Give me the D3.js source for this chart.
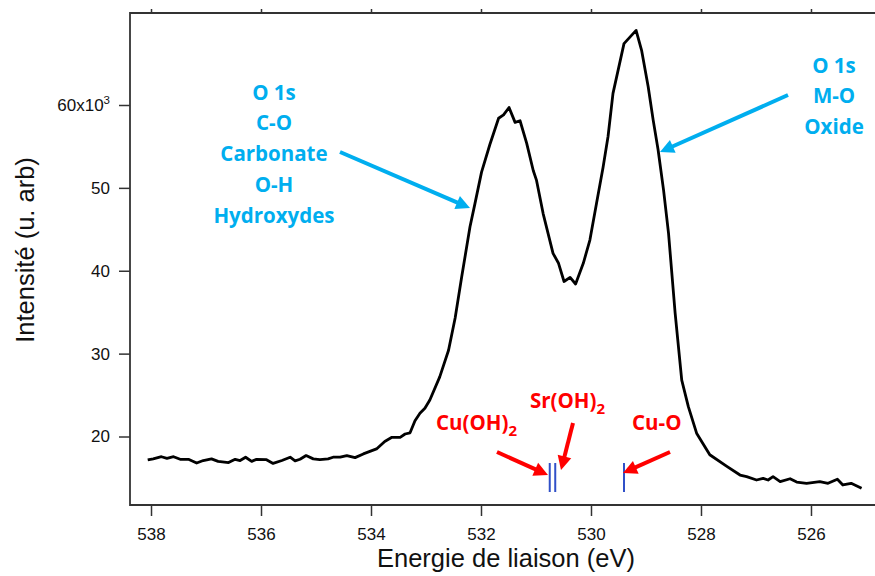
<!DOCTYPE html>
<html>
<head>
<meta charset="utf-8">
<script src="https://cdn.jsdelivr.net/npm/d3@7"></script>
<style>
  html, body { margin: 0; padding: 0; background: #fff; }
  svg { display: block; }
</style>
</head>
<body>
<svg id="chart" width="875" height="576"></svg>
<script>
// O 1s XPS spectrum: binding energy (eV) and intensity (counts)
const energy = [
  538.06, 537.96, 537.81, 537.71, 537.59, 537.47, 537.32, 537.17, 537.05, 536.90,
  536.78, 536.59, 536.47, 536.38, 536.28, 536.17, 536.08, 535.90, 535.78, 535.62,
  535.47, 535.38, 535.29, 535.18, 535.05, 534.93, 534.78, 534.69, 534.56, 534.44,
  534.29, 534.14, 534.02, 533.90, 533.75, 533.62, 533.47, 533.38, 533.29, 533.20,
  533.11, 533.02, 532.93, 532.75, 532.59, 532.47, 532.35, 532.20, 532.11, 531.99,
  531.84, 531.68, 531.59, 531.49, 531.38, 531.29, 531.17, 531.05, 530.99, 530.87,
  530.69, 530.59, 530.49, 530.38, 530.28, 530.14, 530.02, 529.90, 529.78, 529.69,
  529.60, 529.40, 529.18, 529.08, 528.96, 528.87, 528.78, 528.68, 528.59, 528.47,
  528.35, 528.23, 528.08, 527.84, 527.53, 527.29, 527.17, 526.99, 526.87, 526.78,
  526.69, 526.56, 526.38, 526.26, 526.08, 525.84, 525.69, 525.52, 525.42, 525.27,
  525.08
];
const intensity = [
  17170, 17300, 17560, 17370, 17560, 17250, 17250, 16800, 17100, 17300,
  17000, 16850, 17250, 17100, 17500, 17000, 17250, 17200, 16750, 17100,
  17500, 17050, 17250, 17700, 17300, 17200, 17300, 17500, 17500, 17700,
  17450, 17900, 18200, 18500, 19400, 19900, 19900, 20300, 20450, 21900,
  22800, 23400, 24400, 27200, 30400, 34300, 39300, 45300, 48100, 51900,
  55200, 58400, 58800, 59700, 57900, 58100, 55400, 52100, 50900, 46900,
  42100, 40900, 38700, 39200, 38400, 40900, 43700, 48100, 52500, 56200,
  61400, 67400, 69000, 66600, 62200, 58200, 54600, 49700, 44500, 34900,
  26800, 23600, 20400, 17800, 16400, 15350, 15150, 14750, 14950, 14750,
  15150, 14550, 14900, 14500, 14350, 14550, 14350, 14850, 14150, 14350,
  13750
];

// Axis ticks
const xTicks = [538, 536, 534, 532, 530, 528, 526];
const yTicks = [20000, 30000, 40000, 50000, 60000];

// Reference binding energies of the expected species
const refNames = ["Cu(OH)2", "Sr(OH)2", "CuO"];
const refEnergies = [530.75, 530.65, 529.40];

const svg = d3.select("#chart");
const mLeft = 130, mRight = 875, mTop = 13, mBottom = 505;

const x = d3.scaleLinear().domain([538.382, 524.836]).range([mLeft, mRight]);
const y = d3.scaleLinear().domain([11735, 71100]).range([mBottom, mTop]);

const frameColor = "#333";
const tickFont = "Liberation Sans, Arial, sans-serif";

// Bottom axis
const gx = svg.append("g")
  .attr("transform", `translate(0,${mBottom})`)
  .call(d3.axisBottom(x).tickValues(xTicks).tickSize(11).tickPadding(12.2)
    .tickFormat(d3.format("d")));
gx.select(".domain").remove();
gx.selectAll(".tick line").attr("stroke", frameColor).attr("stroke-width", 1.5);
gx.selectAll(".tick text").attr("font-family", tickFont).attr("font-size", 17).attr("fill", "#111");

// Top axis (ticks only)
const gt = svg.append("g")
  .attr("transform", `translate(0,${mTop})`)
  .call(d3.axisTop(x).tickValues(xTicks).tickSize(4).tickFormat(""));
gt.select(".domain").remove();
gt.selectAll(".tick line").attr("stroke", frameColor).attr("stroke-width", 1.5);

// Left axis
const gy = svg.append("g")
  .attr("transform", `translate(${mLeft},0)`)
  .call(d3.axisLeft(y).tickValues(yTicks).tickSize(11).tickPadding(9)
    .tickFormat(d => d / 1000));
gy.select(".domain").remove();
gy.selectAll(".tick line").attr("stroke", frameColor).attr("stroke-width", 1.5);
gy.selectAll(".tick text").attr("font-family", tickFont).attr("font-size", 17).attr("fill", "#111");
gy.selectAll(".tick text").filter(d => d === 60000).each(function () {
  const t = d3.select(this).text("");
  t.append("tspan").text("60x10");
  t.append("tspan").attr("dy", -7).attr("font-size", 11.5).text("3");
});

// Frame: left, top, bottom lines
svg.append("path")
  .attr("d", `M${mRight},${mTop}H${mLeft}V${mBottom}H${mRight}`)
  .attr("fill", "none").attr("stroke", frameColor).attr("stroke-width", 1.8);

// Axis titles
svg.append("text")
  .attr("x", 506).attr("y", 567)
  .attr("text-anchor", "middle")
  .attr("font-family", tickFont).attr("font-size", 25.5).attr("fill", "#111")
  .text("Energie de liaison (eV)");
svg.append("text")
  .attr("transform", "translate(34,250) rotate(-90)")
  .attr("text-anchor", "middle")
  .attr("font-family", tickFont).attr("font-size", 25.5).attr("fill", "#111")
  .text("Intensité (u. arb)");

// Spectrum
const line = d3.line().x((d, i) => x(energy[i])).y((d, i) => y(intensity[i]));
svg.append("path")
  .datum(intensity)
  .attr("d", line)
  .attr("fill", "none")
  .attr("stroke", "#000")
  .attr("stroke-width", 2.8)
  .attr("stroke-linejoin", "round");

// Reference positions (vertical markers)
svg.append("g").selectAll("line")
  .data(refEnergies)
  .join("line")
  .attr("x1", d => x(d)).attr("x2", d => x(d))
  .attr("y1", y(16800)).attr("y2", y(13300))
  .attr("stroke", "#3050C8").attr("stroke-width", 2);

// Arrow helper: shaft plus filled triangular head
function arrow(x1, y1, x2, y2, color) {
  const dx = x2 - x1, dy = y2 - y1, len = Math.hypot(dx, dy);
  const ux = dx / len, uy = dy / len;
  const headL = 14, headW = 7;
  const bx = x2 - ux * headL, by = y2 - uy * headL;
  svg.append("line")
    .attr("x1", x1).attr("y1", y1).attr("x2", bx + ux * 1).attr("y2", by + uy * 1)
    .attr("stroke", color).attr("stroke-width", 4);
  svg.append("path")
    .attr("d", `M${x2},${y2}L${bx - uy * headW},${by + ux * headW}L${bx + uy * headW},${by - ux * headW}Z`)
    .attr("fill", color);
}

const blue = "#00AEEF", red = "#FF0000";
const noteFont = "Open Sans, sans-serif";

// Blue peak labels
const leftNote = ["O 1s", "C-O", "Carbonate", "O-H", "Hydroxydes"];
svg.append("g").selectAll("text")
  .data(leftNote).join("text")
  .attr("x", 274).attr("y", (d, i) => 99.5 + i * 30.8)
  .attr("text-anchor", "middle")
  .attr("font-family", noteFont).attr("font-weight", 700).attr("font-size", 20.5)
  .attr("fill", blue).text(d => d);
const rightNote = ["O 1s", "M-O", "Oxide"];
svg.append("g").selectAll("text")
  .data(rightNote).join("text")
  .attr("x", 834).attr("y", (d, i) => 72.5 + i * 30.8)
  .attr("text-anchor", "middle")
  .attr("font-family", noteFont).attr("font-weight", 700).attr("font-size", 20.5)
  .attr("fill", blue).text(d => d);

arrow(340, 152, 470, 208, blue);
arrow(788, 95, 660, 152, blue);

// Red species labels with subscripts
function chemLabel(xp, yp, main, sub) {
  const t = svg.append("text")
    .attr("x", xp).attr("y", yp)
    .attr("font-family", noteFont).attr("font-weight", 700).attr("font-size", 20.5)
    .attr("fill", red);
  t.append("tspan").text(main);
  if (sub) t.append("tspan").attr("dy", 6).attr("font-size", 15).text(sub);
}
chemLabel(436, 430, "Cu(OH)", "2");
chemLabel(530, 408, "Sr(OH)", "2");
chemLabel(632, 430, "Cu-O", null);

arrow(497, 452, 548, 475, red);
arrow(573, 423, 561, 470, red);
arrow(670, 452, 623, 473, red);
</script>
</body>
</html>
